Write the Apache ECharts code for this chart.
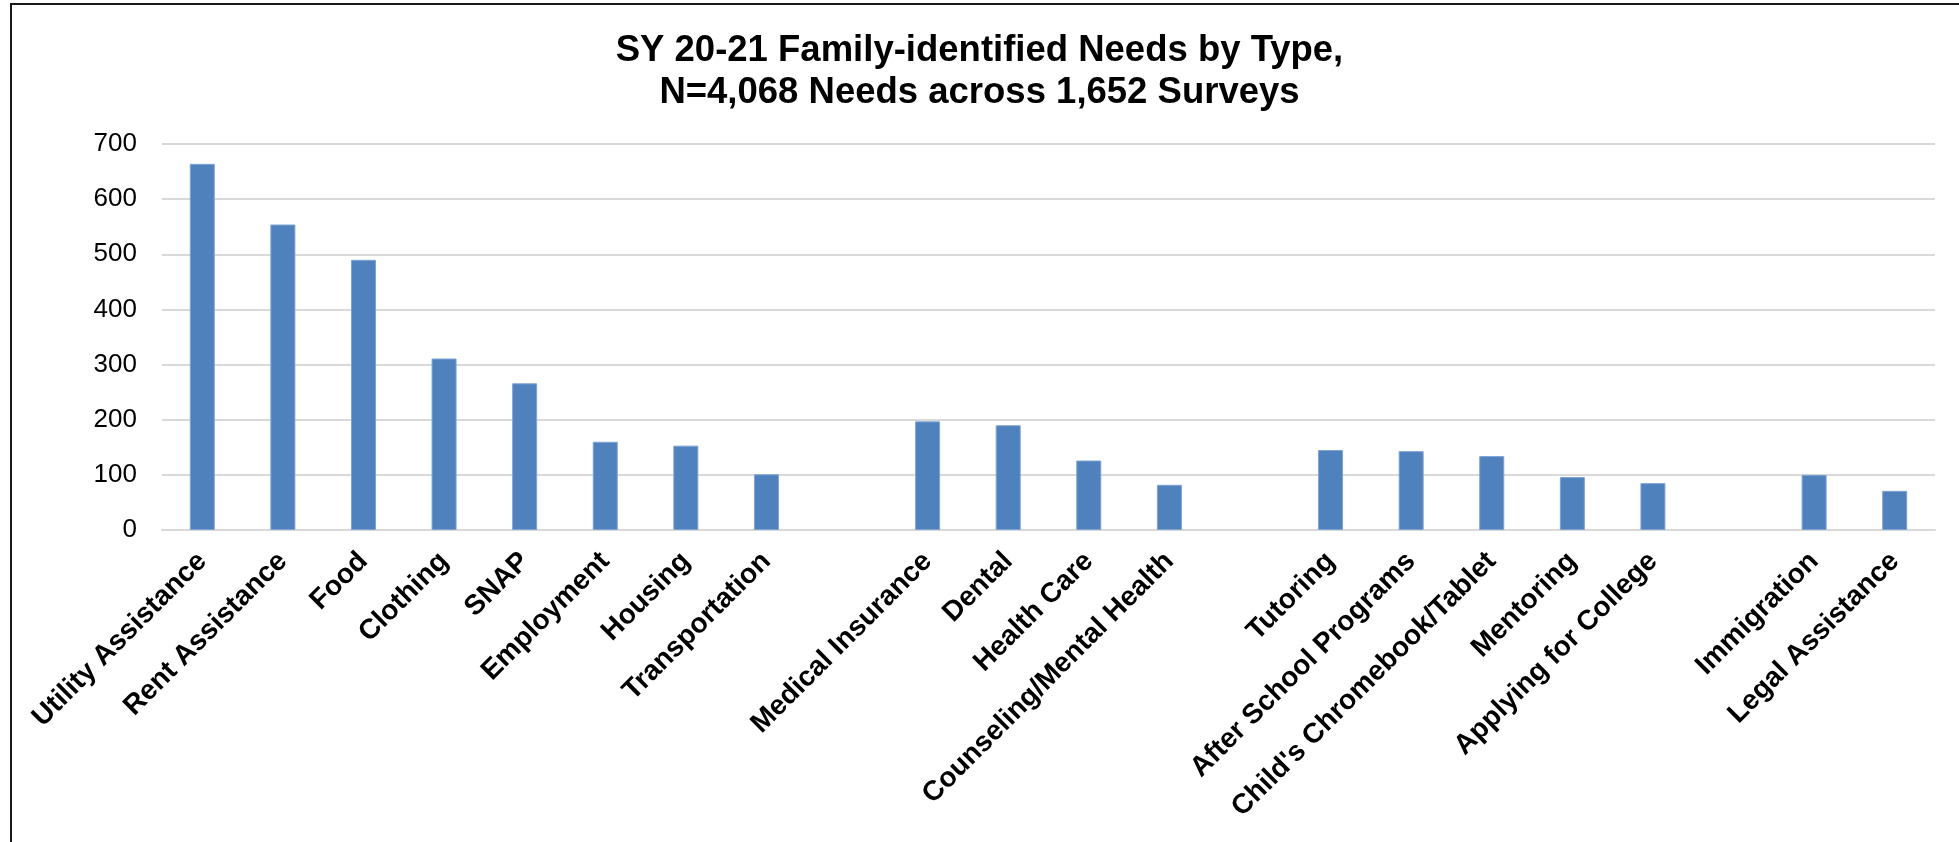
<!DOCTYPE html>
<html>
<head>
<meta charset="utf-8">
<script src="https://cdn.jsdelivr.net/npm/echarts@6/dist/echarts.min.js"></script>
<style>
  html, body { margin: 0; padding: 0; background: #fff; overflow: hidden; }
  #frame { position: absolute; left: 10px; top: 3px; width: 2100px; height: 1000px; border: 2px solid #1a1a1a; box-sizing: border-box; }
  #chart { position: absolute; left: 0; top: 0; width: 1959px; height: 842px; }
</style>
</head>
<body>
<div id="frame"></div>
<div id="chart"></div>
<script>
// Categories (blank names are the visual gaps between groups)
const categories = [
  'Utility Assistance', 'Rent Assistance', 'Food', 'Clothing', 'SNAP', 'Employment', 'Housing', 'Transportation',
  ' ',
  'Medical Insurance', 'Dental', 'Health Care', 'Counseling/Mental Health',
  '  ',
  'Tutoring', 'After School Programs', "Child's Chromebook/Tablet", 'Mentoring', 'Applying for College',
  '   ',
  'Immigration', 'Legal Assistance'
];
// Number of needs per category (null = gap)
const needs = [
  664, 554, 490, 311, 266, 160, 153, 101,
  null,
  197, 190, 126, 82,
  null,
  145, 143, 134, 96, 85,
  null,
  100, 71
];
const yTicks = { min: 0, max: 700, interval: 100 };
const titleLines = ['SY 20-21 Family-identified Needs by Type,', 'N=4,068 Needs across 1,652 Surveys'];

const FONT = 'Liberation Sans, Arial, sans-serif';
const chart = echarts.init(document.getElementById('chart'), null, { renderer: 'canvas' });
chart.setOption({
  animation: false,
  textStyle: { fontFamily: FONT },
  title: {
    text: titleLines.join('\n'),
    left: 'center',
    top: 30,
    padding: 0,
    textStyle: { fontSize: 36.5, fontWeight: 'bold', color: '#000', lineHeight: 42, fontFamily: FONT }
  },
  grid: { left: 162, right: 24, top: 144, bottom: 312, containLabel: false },
  xAxis: {
    type: 'category',
    data: categories,
    axisTick: { show: false },
    axisLine: { show: true, lineStyle: { color: '#d9d9d9', width: 2 } },
    axisLabel: {
      interval: 0,
      rotate: 45,
      margin: 27,
      fontSize: 28,
      fontWeight: 'bold',
      color: '#000',
      fontFamily: FONT
    }
  },
  yAxis: {
    type: 'value',
    min: yTicks.min,
    max: yTicks.max,
    interval: yTicks.interval,
    axisLine: { show: false },
    axisTick: { show: false },
    splitLine: { lineStyle: { color: '#d9d9d9', width: 2 } },
    axisLabel: { fontSize: 26, color: '#000', margin: 25, fontFamily: FONT }
  },
  series: [{
    type: 'bar',
    data: needs,
    barWidth: 25,
    itemStyle: { color: '#4f81bd', borderColor: '#7ea3d3', borderWidth: 1 }
  }]
});
</script>
</body>
</html>
